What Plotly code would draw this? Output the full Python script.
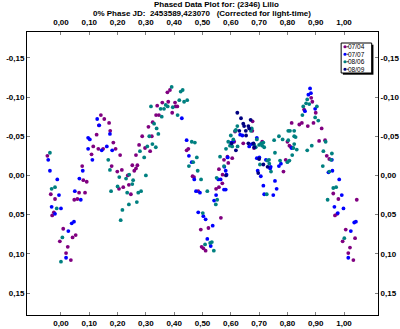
import plotly.graph_objects as go

# ---- data (phase, reduced magnitude) ----
s1_name = "07/04"
s1_phase = [-0.048,-0.036,-0.021,-0.025,-0.031,0.008,0.052,0.041,-0.004,0.024,0.018,0.035,
            0.047,0.058,0.064,0.085,0.079,0.091,0.075,0.108,0.114,0.126,0.141,0.153,0.134,0.170,
            0.174,0.185,0.149,0.132,0.193,0.209,0.179,0.199,0.215,0.236,0.252,0.270,0.259,0.265,
            0.240,0.220,0.205,0.247,0.287,0.276,0.265,0.297,0.315,0.321,0.309,0.324,0.336,0.346,
            0.358,0.340,0.379,0.393,0.405,0.411,0.403,0.376,0.385,0.444,0.450,0.465,0.470,0.485,
            0.548,0.558,0.521,0.494,0.497,0.503,0.511,0.565,0.570,0.558,0.571,0.576,0.588,0.591,
            0.605,0.612,0.615,0.676,0.677,0.644,0.682,0.711,0.794,0.786,0.800,0.807,0.813,0.815,
            0.842,0.851,0.859,0.872,0.884,0.888,0.892,0.900,0.912,0.921,0.933,0.939,0.948,0.962,
            0.980,0.968,0.976,1.045,1.006,0.995,1.039,1.021,1.015,1.033]
s1_mag = [-0.025,0.024,0.030,0.047,0.051,0.068,0.076,0.079,0.084,0.091,0.099,0.108,
          0.031,0.030,0.022,0.022,0.006,0.008,-0.012,-0.027,-0.037,-0.052,-0.077,-0.072,-0.064,-0.067,
          -0.057,-0.042,-0.034,-0.034,-0.034,-0.026,-0.012,-0.005,-0.007,0.000,-0.013,-0.013,-0.006,-0.009,
          0.012,0.015,0.017,0.024,-0.050,-0.039,-0.026,-0.035,-0.031,-0.050,-0.062,-0.068,-0.077,-0.077,
          -0.093,-0.089,-0.094,-0.080,-0.088,-0.088,-0.093,-0.106,-0.109,-0.032,-0.034,0.001,0.002,0.020,
          0.017,0.015,0.067,0.069,0.091,0.093,0.096,0.054,0.010,-0.008,-0.001,-0.020,-0.024,-0.016,
          -0.022,-0.043,-0.056,-0.057,-0.069,-0.041,-0.035,-0.043,-0.020,-0.005,-0.043,-0.038,-0.036,-0.067,
          -0.065,-0.067,-0.084,-0.063,-0.099,-0.094,-0.067,-0.080,-0.044,-0.060,-0.045,-0.025,-0.021,0.023,
          0.030,0.051,0.049,0.031,0.069,0.084,0.080,0.092,0.099,0.108]

s2_name = "07/07"
s2_phase = [-0.045,-0.039,-0.013,-0.007,-0.033,0.000,-0.021,0.038,0.046,0.026,0.018,0.049,0.070,
            0.065,0.077,0.111,0.096,0.096,0.102,0.128,0.135,0.173,0.162,0.144,0.181,0.427,0.444,
            0.452,0.462,0.471,0.477,0.491,0.548,0.541,0.485,0.503,0.511,0.536,0.517,0.529,0.556,
            0.564,0.576,0.582,0.577,0.582,0.585,0.589,0.601,0.609,0.633,0.641,0.665,0.674,0.692,
            0.692,0.701,0.695,0.706,0.715,0.718,0.724,0.739,0.741,0.756,0.762,0.750,0.770,0.777,
            0.815,0.862,0.874,0.883,0.880,0.898,0.945,0.959,0.957,0.983,0.992,0.966,0.998,0.978,
            1.036,1.042,1.024,1.015]
s2_mag = [-0.020,-0.006,0.005,0.025,0.040,0.042,0.049,0.061,0.059,0.071,0.105,0.020,0.031,
          0.004,-0.006,-0.020,-0.034,-0.048,-0.046,-0.072,-0.064,-0.053,-0.037,-0.032,-0.032,-0.073,-0.045,
          -0.025,-0.017,0.005,0.020,0.022,0.025,0.032,0.047,0.052,0.056,0.064,0.081,0.090,0.005,
          0.005,0.018,0.018,-0.011,-0.006,-0.001,-0.023,-0.042,-0.044,-0.052,-0.051,-0.037,-0.040,-0.048,
          -0.022,-0.023,-0.006,0.001,0.013,0.024,-0.020,-0.009,-0.011,0.007,0.017,0.025,-0.012,-0.015,
          -0.035,-0.082,-0.103,-0.105,-0.111,-0.085,-0.004,-0.006,-0.020,0.005,0.025,0.040,0.042,0.048,
          0.060,0.059,0.071,0.105]

s3_name = "08/06"
s3_phase = [-0.039,-0.033,-0.021,-0.015,0.005,0.000,0.167,0.173,0.206,0.230,0.255,0.241,0.200,
            0.177,0.234,0.252,0.283,0.273,0.268,0.240,0.217,0.211,0.300,0.279,0.294,0.305,0.323,
            0.335,0.312,0.344,0.338,0.329,0.356,0.352,0.364,0.370,0.318,0.377,0.412,0.395,0.418,
            0.435,0.446,0.391,0.423,0.430,0.462,0.473,0.480,0.467,0.452,0.483,0.495,0.517,0.550,
            0.552,0.547,0.501,0.533,0.509,0.540,0.527,0.562,0.576,0.583,0.591,0.597,0.605,0.600,
            0.609,0.615,0.623,0.618,0.624,0.674,0.671,0.683,0.688,0.692,0.700,0.707,0.711,0.715,
            0.718,0.703,0.727,0.729,0.735,0.736,0.742,0.756,0.753,0.770,0.783,0.774,0.800,0.807,
            0.803,0.817,0.821,0.824,0.829,0.824,0.824,0.803,0.809,0.833,0.853,0.856,0.870,0.886,
            0.866,0.877,0.870,0.904,0.898,0.909,0.925,0.927,0.935,0.948,0.954,0.957,0.962,0.972,
            0.942,1.001]
s3_mag = [-0.029,0.017,0.015,0.042,0.079,0.110,-0.020,-0.007,0.002,0.004,0.006,-0.001,0.014,
          0.020,0.022,0.011,0.020,0.022,0.034,0.037,0.044,0.057,0.000,-0.031,-0.023,-0.037,-0.040,
          -0.036,-0.050,-0.053,-0.060,-0.066,-0.075,-0.085,-0.085,-0.090,-0.088,-0.088,-0.077,-0.087,-0.096,
          -0.094,-0.096,-0.113,-0.107,-0.109,-0.043,-0.042,-0.023,-0.017,-0.012,-0.006,0.005,0.020,0.003,
          0.031,0.037,0.048,0.085,0.088,0.096,0.086,-0.024,-0.012,-0.034,-0.043,-0.038,-0.037,-0.051,
          -0.046,-0.057,-0.063,-0.058,-0.037,-0.060,-0.057,-0.039,-0.036,-0.046,-0.039,-0.041,-0.038,-0.042,
          -0.036,-0.014,0.024,-0.019,-0.020,-0.015,-0.005,-0.029,-0.045,-0.050,-0.046,-0.019,-0.017,-0.019,
          -0.045,-0.026,-0.035,-0.050,-0.049,-0.040,-0.057,-0.057,-0.057,-0.033,-0.077,-0.088,-0.032,-0.038,
          -0.092,-0.091,-0.097,-0.088,-0.074,-0.070,-0.012,-0.031,-0.043,-0.005,-0.020,-0.028,0.016,0.015,
          0.031,0.080]

s4_name = "08/09"
s4_phase = [0.618,0.630,0.644,0.623,0.636,0.647,0.662,0.653,0.665,0.670,0.654,0.662,0.683,
            0.680,0.700,0.697,0.730,0.603,0.583,0.715]
s4_mag = [-0.032,-0.057,-0.066,-0.080,-0.073,-0.063,-0.063,-0.057,-0.060,-0.071,-0.051,-0.041,-0.036,
          -0.041,-0.021,-0.003,-0.011,-0.041,0.000,-0.014]

colors = ["#800080", "#0000FF", "#008080", "#000080"]

x_ticks = [0.0, 0.1, 0.2, 0.3, 0.4, 0.5, 0.6, 0.7, 0.8, 0.9, 1.0]
x_labels = ["0,00", "0,10", "0,20", "0,30", "0,40", "0,50", "0,60", "0,70", "0,80", "0,90", "1,00"]
y_ticks = [-0.15, -0.10, -0.05, 0.0, 0.05, 0.10, 0.15]
y_labels = ["-0,15", "-0,10", "-0,05", "0,00", "0,05", "0,10", "0,15"]

title1 = "Phased Data Plot for: (2346) Lilio"
title2 = "0% Phase JD:  2453589,423070   (Corrected for light-time)"

FONT = "Liberation Sans, Arial, sans-serif"

series = [(s1_name, s1_phase, s1_mag, colors[0]),
          (s2_name, s2_phase, s2_mag, colors[1]),
          (s3_name, s3_phase, s3_mag, colors[2]),
          (s4_name, s4_phase, s4_mag, colors[3])]

fig = go.Figure()
for name, px, mg, c in series:
    fig.add_trace(go.Scatter(x=px, y=mg, mode="markers", name=name, showlegend=False,
                             marker=dict(color=c, size=3.8, line=dict(width=0))))

XR = [-0.12, 1.12]
YR = [0.178, -0.183]
axis_common = dict(showgrid=False, zeroline=False, showline=True, linecolor="black", linewidth=1,
                   ticks="inside", ticklen=3, tickcolor="#808080", tickwidth=1, automargin=False,
                   tickfont=dict(family=FONT, size=8, color="black", weight="bold"))

# ---- hand-built compact legend box ----
PH = 283.0  # plot height in px
shapes = []
annotations = []
lx0, lx1 = 0.895, 0.982
ly0, ly1 = 1 - 11 / PH, 1 - 41 / PH
shapes.append(dict(type="rect", xref="paper", yref="paper", x0=lx0 + 0.005, x1=lx1 + 0.005,
                   y0=ly0 - 0.006, y1=ly1 - 0.006, fillcolor="black", line=dict(width=0)))
shapes.append(dict(type="rect", xref="paper", yref="paper", x0=lx0, x1=lx1, y0=ly0, y1=ly1,
                   fillcolor="white", line=dict(color="black", width=1)))
step = (ly0 - ly1) / 4.0
for i, (name, _, _, c) in enumerate(series):
    yc = ly0 - step * (i + 0.5)
    shapes.append(dict(type="circle", xref="paper", yref="paper", xsizemode="pixel",
                       ysizemode="pixel", xanchor=lx0 + 0.011, yanchor=yc,
                       x0=-1.6, x1=1.6, y0=-1.6, y1=1.6, fillcolor=c, line=dict(width=0)))
    shapes.append(dict(type="line", xref="paper", yref="paper", xsizemode="pixel",
                       xanchor=lx0 + 0.011, x0=1.5, x1=3.5, y0=yc, y1=yc,
                       line=dict(color="#444444", width=1)))
    annotations.append(dict(text=name, x=lx0 + 0.017, y=yc, xref="paper", yref="paper",
                            xanchor="left", yanchor="middle", showarrow=False, borderpad=0,
                            font=dict(family=FONT, size=6.5, color="black")))

annotations += [
    dict(text="<b>" + title1 + "</b>", x=0.541, y=1 + 27 / PH, xref="paper", yref="paper",
         xanchor="center", yanchor="middle", showarrow=False,
         font=dict(family=FONT, size=8, color="black")),
    dict(text="<b>" + title2 + "</b>", x=0.499, y=1 + 18 / PH, xref="paper", yref="paper",
         xanchor="center", yanchor="middle", showarrow=False,
         font=dict(family=FONT, size=8, color="black")),
]

fig.update_layout(
    width=400, height=329,
    margin=dict(l=27, r=22, t=32, b=14),
    paper_bgcolor="white", plot_bgcolor="white",
    showlegend=False,
    xaxis=dict(range=XR, tickvals=x_ticks, ticktext=x_labels, side="bottom", **axis_common),
    xaxis2=dict(range=XR, tickvals=x_ticks, ticktext=x_labels, side="top", overlaying="x",
                anchor="y", ticklabelstandoff=3, **axis_common),
    yaxis=dict(range=YR, tickvals=y_ticks, ticktext=y_labels, side="left", **axis_common),
    yaxis2=dict(range=YR, tickvals=y_ticks, ticktext=y_labels, side="right", overlaying="y",
                anchor="x", **axis_common),
    shapes=shapes,
    annotations=annotations,
)
# invisible trace to activate the mirrored axes
fig.add_trace(go.Scatter(x=[None], y=[None], xaxis="x2", yaxis="y2", showlegend=False,
                         hoverinfo="skip"))

fig.write_html("out.html", config={"displayModeBar": False},
               post_script="document.body.style.margin='0';")
